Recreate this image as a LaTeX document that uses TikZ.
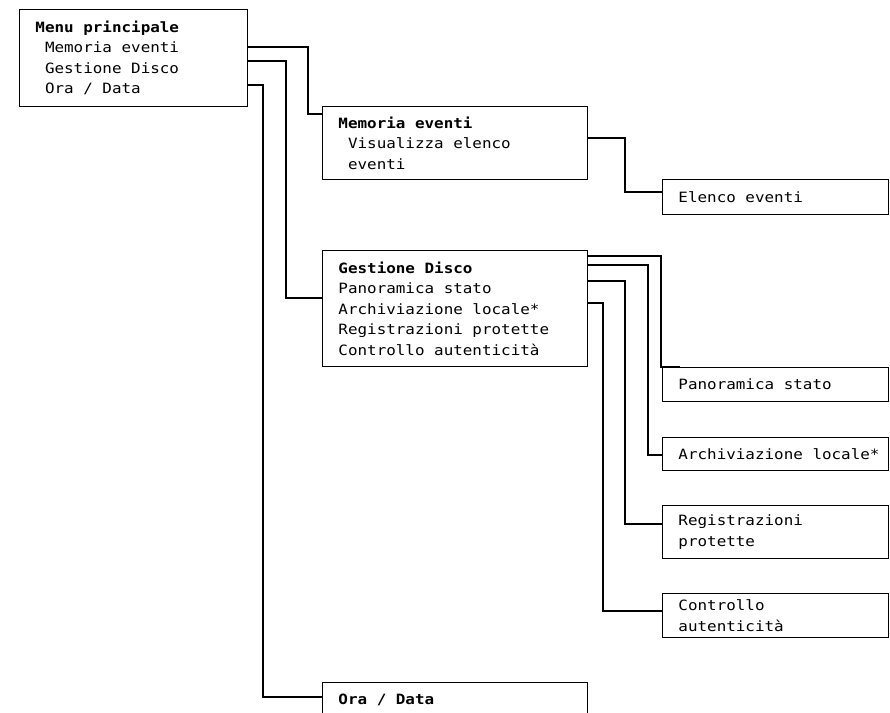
\documentclass[tikz,border=0pt]{standalone}
\usepackage{fontspec}
\newfontfamily\menufont[FakeStretch=1.12]{DejaVu Sans Mono}
\newcommand\menusize{\menufont\fontsize{14.2pt}{20.5pt}\selectfont}
\newcommand\monospaces{\spaceskip=\fontcharwd\font 120\relax\xspaceskip=\spaceskip\hyphenpenalty=10000\relax}
\newcommand\oneblank{\phantom{x}}
\usetikzlibrary{calc}
\begin{document}
\begin{tikzpicture}[x=1pt,y=-1pt,
    menubox/.style={draw,line width=0.9pt,anchor=north west,inner xsep=16pt,inner ysep=0pt,align=flush left,
        font=\menusize,execute at begin node=\monospaces},
    link/.style={line width=2pt}]
    \useasboundingbox (0,0) rectangle (890,712);
    \clip (0,0) rectangle (890,712);
    \node[menubox,text width=196pt,minimum height=97pt] (menu) at (19,9) {\textbf{Menu principale}\\\oneblank Memoria eventi\\\oneblank Gestione Disco\\\oneblank Ora / Data};
    \node[menubox,text width=233pt,minimum height=73pt] (mem) at (322,106) {\textbf{Memoria eventi}\\\oneblank Visualizza elenco\\\oneblank eventi};
    \node[menubox,text width=194pt,minimum height=35pt] (elenco) at (662,179) {Elenco eventi};
    \node[menubox,text width=233pt,minimum height=116pt] (gest) at (322,250) {\textbf{Gestione Disco}\\Panoramica stato\\Archiviazione~locale*\\Registrazioni~protette\\Controllo autenticità};
    \node[menubox,text width=194pt,minimum height=34pt] (pano) at (662,367) {Panoramica stato};
    \node[menubox,text width=194pt,minimum height=33pt] (arch) at (662,437) {Archiviazione~locale*};
    \node[menubox,text width=194pt,minimum height=53pt] (reg) at (662,505) {Registrazioni\\protette};
    \node[menubox,text width=194pt,minimum height=44pt] (ctrl) at (662,593) {Controllo\\autenticità};
    \node[menubox,text width=233pt,minimum height=35pt] (ora) at (322,682) {\textbf{Ora / Data}};
    \draw[link] ($(menu.north east)+(0,38)$) -- ++(60,0) |- ($(mem.north west)+(0,8)$);
    \draw[link] ($(menu.north east)+(0,52)$) -- ++(38,0) |- ($(gest.north west)+(0,48)$);
    \draw[link] ($(menu.north east)+(0,76)$) -- ++(15,0) |- ($(ora.north west)+(0,15)$);
    \draw[link] ($(mem.north east)+(0,32)$) -- ++(37,0) |- ($(elenco.north west)+(0,13)$);
    \draw[link] ($(gest.north east)+(0,6)$) -- ++(73,0) |- ($(pano.north west)+(18,0)$);
    \draw[link] ($(gest.north east)+(0,15)$) -- ++(60,0) |- ($(arch.north west)+(0,18)$);
    \draw[link] ($(gest.north east)+(0,31)$) -- ++(37,0) |- ($(reg.north west)+(0,19)$);
    \draw[link] ($(gest.north east)+(0,53)$) -- ++(15,0) |- ($(ctrl.north west)+(0,18)$);
\end{tikzpicture}
\end{document}
